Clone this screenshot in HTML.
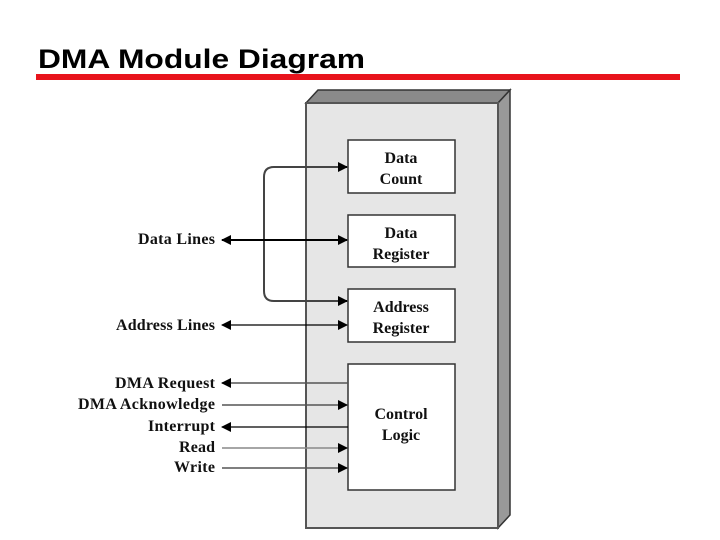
<!DOCTYPE html>
<html><head><meta charset="utf-8"><style>
html,body{margin:0;padding:0;background:#fff;width:720px;height:540px;overflow:hidden}
</style></head><body>
<svg width="720" height="540" xmlns="http://www.w3.org/2000/svg">
<defs>
<marker id="a" markerWidth="10" markerHeight="10" refX="9" refY="5" orient="auto" markerUnits="userSpaceOnUse">
<path d="M0,0 L10,5 L0,10 z" fill="#000"/></marker>
<marker id="b" markerWidth="10" markerHeight="10" refX="1" refY="5" orient="auto" markerUnits="userSpaceOnUse">
<path d="M10,0 L0,5 L10,10 z" fill="#000"/></marker>
</defs>
<text x="38" y="68" font-family="Liberation Sans, sans-serif" font-weight="bold" font-size="27" textLength="327" lengthAdjust="spacingAndGlyphs">DMA Module Diagram</text>
<rect x="36" y="74" width="644" height="6" fill="#e8141c"/>
<polygon points="306,103 318,90 510,90 498,103" fill="#8a8a8a" stroke="#333" stroke-width="1.5"/>
<polygon points="498,103 510,90 510,515 498,528" fill="#999" stroke="#333" stroke-width="1.5"/>
<rect x="306" y="103" width="192" height="425" fill="#e6e6e6" stroke="#555" stroke-width="2"/>
<g fill="#fff" stroke="#333" stroke-width="1.5">
<rect x="348" y="140" width="107" height="53"/>
<rect x="348" y="215" width="107" height="52"/>
<rect x="348" y="289" width="107" height="53"/>
<rect x="348" y="364" width="107" height="126"/>
</g>
<g font-family="Liberation Serif, serif" font-weight="bold" font-size="16" text-anchor="middle" fill="#111">
<text x="401" y="163">Data</text><text x="401" y="184">Count</text>
<text x="401" y="238">Data</text><text x="401" y="259">Register</text>
<text x="401" y="312">Address</text><text x="401" y="333">Register</text>
<text x="401" y="419">Control</text><text x="401" y="440">Logic</text>
</g>
<g stroke="#000" fill="none">
<path d="M340,167 L274,167 Q264,167 264,177 L264,291 Q264,301 274,301 L340,301" stroke-width="2" stroke="#444"/>
<line x1="340" y1="167" x2="347" y2="167" stroke-width="2" marker-end="url(#a)"/>
<line x1="340" y1="301" x2="347" y2="301" stroke-width="2" marker-end="url(#a)"/>
<line x1="222" y1="240" x2="347" y2="240" stroke-width="2" marker-start="url(#b)" marker-end="url(#a)"/>
<line x1="222" y1="325" x2="347" y2="325" stroke-width="1.2" marker-start="url(#b)" marker-end="url(#a)"/>
<line x1="222" y1="383" x2="348" y2="383" stroke-width="1.5" marker-start="url(#b)" stroke="#555"/>
<line x1="222" y1="405" x2="347" y2="405" stroke-width="1.5" marker-end="url(#a)" stroke="#555"/>
<line x1="222" y1="427" x2="348" y2="427" stroke-width="1.2" marker-start="url(#b)"/>
<line x1="222" y1="448" x2="347" y2="448" stroke-width="1.5" marker-end="url(#a)" stroke="#888"/>
<line x1="222" y1="468" x2="347" y2="468" stroke-width="1.5" marker-end="url(#a)" stroke="#555"/>
</g>
<g font-family="Liberation Serif, serif" font-size="16" font-weight="bold" fill="#111" lengthAdjust="spacingAndGlyphs">
<text x="138" y="244" textLength="77">Data Lines</text>
<text x="116" y="330" textLength="99">Address Lines</text>
<text x="115" y="388" textLength="100">DMA Request</text>
<text x="78" y="409" textLength="137">DMA Acknowledge</text>
<text x="148" y="431" textLength="67">Interrupt</text>
<text x="179" y="452" textLength="36">Read</text>
<text x="174" y="472" textLength="41">Write</text>
</g>
</svg>
</body></html>
